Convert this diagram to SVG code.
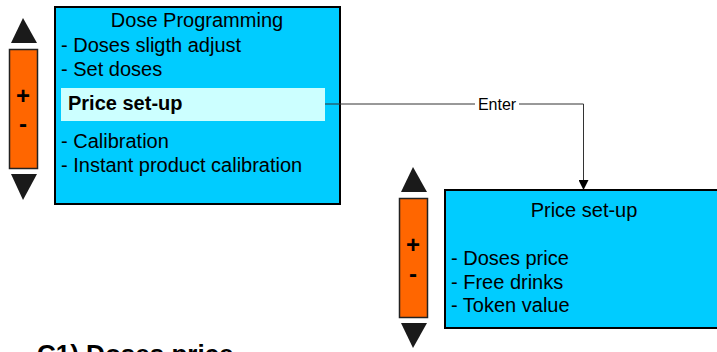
<svg xmlns="http://www.w3.org/2000/svg" width="717" height="352" viewBox="0 0 717 352">
<style>
text{font-family:"Liberation Sans",Arial,sans-serif;fill:#000}
.box{fill:#00ccff;stroke:#000;stroke-width:2}
.bar{fill:#ff6600;stroke:#222;stroke-width:1.5}
.tri{fill:#1a1a1a}
.t{font-size:20px}
.pm{font-size:24px;font-weight:bold;text-anchor:middle}
.conn{fill:none;stroke:#333;stroke-width:1}
</style>
<defs>
<marker id="ah" markerWidth="10" markerHeight="10" refX="10" refY="5" orient="auto" markerUnits="userSpaceOnUse">
<path d="M0,0 L10,5 L0,10 Z" fill="#000"/>
</marker>
</defs>
<rect width="717" height="352" fill="#fff"/>
<g id="left-control">
<path class="tri" d="M23,18 L37,43 L11,43 Z"/>
<rect class="bar" x="9.5" y="49.5" width="28" height="119"/>
<path class="tri" d="M11,174 L37,174 L23,200 Z"/>
<text class="pm" x="23" y="104">+</text>
<text class="pm" x="23" y="132">-</text>
</g>
<g id="dose-programming">
<rect class="box" x="55" y="7" width="285" height="197"/>
<rect x="61" y="88" width="264" height="33" fill="#ccffff"/>
<text class="t" x="197" y="27" text-anchor="middle">Dose Programming</text>
<text class="t" x="61" y="52">- Doses sligth adjust</text>
<text class="t" x="61" y="76">- Set doses</text>
<text class="t" x="68" y="110" font-weight="bold" font-size="19">Price set-up</text>
<text class="t" x="61" y="148">- Calibration</text>
<text class="t" x="61" y="172">- Instant product calibration</text>
</g>
<g id="connectors">
<path class="conn" d="M325,104 H583.5 V190" marker-end="url(#ah)"/>
<rect x="475" y="95" width="44" height="18" fill="#fff"/>
<text x="497" y="110" font-size="16" text-anchor="middle">Enter</text>
</g>
<g id="right-control">
<path class="tri" d="M413,167 L427,192 L401,192 Z"/>
<rect class="bar" x="399.5" y="198.5" width="28" height="119"/>
<path class="tri" d="M401,323 L427,323 L413,348 Z"/>
<text class="pm" x="413" y="253">+</text>
<text class="pm" x="413" y="282">-</text>
</g>
<g id="price-setup">
<rect class="box" x="445" y="190" width="290" height="138"/>
<text class="t" x="584" y="217" text-anchor="middle">Price set-up</text>
<text class="t" x="451" y="265">- Doses price</text>
<text class="t" x="451" y="289">- Free drinks</text>
<text class="t" x="451" y="312">- Token value</text>
</g>
<text x="37" y="363" font-size="26" font-weight="bold">C1) Doses price</text>
</svg>
